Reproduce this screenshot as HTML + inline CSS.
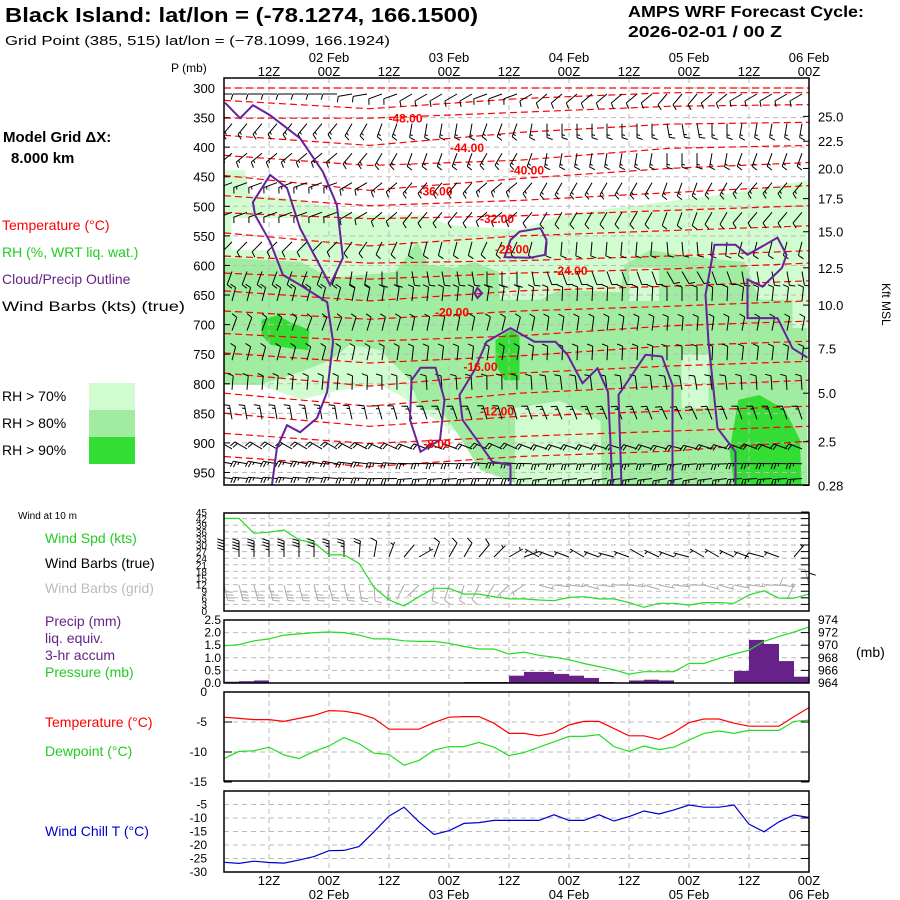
<!DOCTYPE html>
<html><head><meta charset="utf-8"><title>AMPS meteogram Black Island</title>
<style>
html,body{margin:0;padding:0;background:#fff;}
svg{display:block;font-family:"Liberation Sans",sans-serif;}
</style></head>
<body>
<svg id="chart" width="900" height="900" viewBox="0 0 900 900" xmlns="http://www.w3.org/2000/svg">
<rect width="900" height="900" fill="#fff"/>
<text x="5" y="22" font-size="20" font-weight="bold" textLength="473" lengthAdjust="spacingAndGlyphs">Black Island:  lat/lon = (-78.1274, 166.1500)</text>
<text x="5" y="45" font-size="13" textLength="385" lengthAdjust="spacingAndGlyphs">Grid Point (385, 515) lat/lon = (−78.1099, 166.1924)</text>
<text x="628" y="17" font-size="16" font-weight="bold" textLength="236" lengthAdjust="spacingAndGlyphs">AMPS WRF Forecast Cycle:</text>
<text x="628" y="37" font-size="16" font-weight="bold" textLength="154" lengthAdjust="spacingAndGlyphs">2026-02-01 / 00  Z</text>
<text x="171" y="72" font-size="12">P (mb)</text>
<text x="3" y="142" font-size="15" font-weight="bold">Model Grid ΔX:</text>
<text x="11" y="163" font-size="15" font-weight="bold">8.000 km</text>
<text x="2" y="230" font-size="14" fill="#ff0000">Temperature (°C)</text>
<text x="2" y="257" font-size="14" fill="#22cc22">RH (%, WRT liq. wat.)</text>
<text x="2" y="284" font-size="14" fill="#662288">Cloud/Precip Outline</text>
<text x="2" y="311" font-size="14" textLength="183" lengthAdjust="spacingAndGlyphs">Wind Barbs (kts) (true)</text>
<text x="2" y="401" font-size="14">RH &gt; 70%</text>
<text x="2" y="428" font-size="14">RH &gt; 80%</text>
<text x="2" y="455" font-size="14">RH &gt; 90%</text>
<rect x="89" y="383" width="46" height="27" fill="#d0fcd0"/>
<rect x="89" y="410" width="46" height="27" fill="#a0eca0"/>
<rect x="89" y="437" width="46" height="27" fill="#33dd33"/>
<text transform="translate(882,283) rotate(90)" font-size="12">Kft MSL</text>
<text x="18" y="519" font-size="10">Wind at 10 m</text>
<text x="45" y="543" font-size="14" fill="#22cc22">Wind Spd (kts)</text>
<text x="45" y="568" font-size="14">Wind Barbs (true)</text>
<text x="45" y="593" font-size="14" fill="#bbbbbb">Wind Barbs (grid)</text>
<text x="45" y="626" font-size="14" fill="#662288">Precip (mm)</text>
<text x="45" y="643" font-size="14" fill="#662288">liq. equiv.</text>
<text x="45" y="660" font-size="14" fill="#662288">3-hr accum</text>
<text x="45" y="677" font-size="14" fill="#22cc22">Pressure (mb)</text>
<text x="856" y="657" font-size="14">(mb)</text>
<text x="45" y="727" font-size="14" fill="#ff0000">Temperature (°C)</text>
<text x="45" y="756" font-size="14" fill="#22cc22">Dewpoint (°C)</text>
<text x="45" y="836" font-size="14" fill="#0000cc">Wind Chill T (°C)</text>
<g id="layer"></g>
</svg>
<script>
// ---------- data ----------
const tickHours = ["12Z","00Z","12Z","00Z","12Z","00Z","12Z","00Z","12Z","00Z"];
const tickIdx = [3,7,11,15,19,23,27,31,35,39];
const dateLabels = ["02 Feb","03 Feb","04 Feb","05 Feb","06 Feb"];
const dateIdx = [7,15,23,31,39];
const pLevels = [300,350,400,450,500,550,600,650,700,750,800,850,900,950];
const kftLabels = ["25.0","22.5","20.0","17.5","15.0","12.5","10.0","7.5","5.0","2.5","0.28"];
const kftPress = [348,390,436,487,543,604,667,740,816,898,972];
const temperature = [-4.2,-4.4,-4.6,-4.6,-4.9,-4.4,-3.9,-3.1,-3.2,-3.6,-4.4,-6.2,-6.2,-6.2,-5.1,-4.2,-4.1,-4.1,-5.2,-6.9,-6.9,-7.3,-6.8,-5.5,-4.9,-4.9,-6.1,-7.3,-7.3,-7.9,-6.7,-5.1,-4.5,-4.5,-5.2,-5.7,-5.7,-5.7,-4.1,-2.6];
const dewpoint = [-11.1,-9.9,-9.8,-9.2,-10.5,-11.1,-9.9,-9.0,-7.6,-8.6,-10.2,-10.4,-12.2,-11.4,-9.7,-9.1,-9.1,-8.4,-9.2,-10.6,-10.1,-9.2,-8.3,-7.4,-7.4,-7.1,-9.1,-9.9,-9.0,-9.6,-9.2,-8.0,-6.9,-6.5,-6.9,-6.4,-6.4,-6.4,-4.9,-4.7];
const windChill = [-26.4,-26.8,-26.0,-26.5,-26.7,-25.6,-24.3,-22.1,-22.0,-20.6,-15.1,-9.3,-6.0,-11.4,-16.1,-14.7,-12.0,-11.7,-10.9,-10.9,-10.9,-10.9,-8.8,-10.9,-10.9,-8.8,-11.1,-9.5,-7.4,-8.5,-7.0,-5.2,-6.0,-6.0,-5.2,-12.3,-15.1,-11.4,-8.9,-9.8];
const windSpd = [42.1,42.1,35.3,35.8,36.8,32.3,31.0,25.5,25.5,21.7,10.8,5.0,2.3,6.5,10.3,10.3,7.7,7.7,6.5,5.5,5.5,5.0,4.7,6.2,6.5,5.5,5.5,3.8,1.7,3.5,3.5,2.7,3.8,3.8,3.5,7.3,9.2,5.8,5.8,7.7];
const windDir = [0,0,0,0,0,0,0,0,0,5,10,20,40,60,20,30,30,40,45,60,70,300,290,290,300,290,285,290,300,295,290,285,300,300,295,290,285,290,40,180];
const surfPressure = [969.9,970.1,970.7,971.0,971.6,971.8,972.0,972.1,972.0,971.6,971.0,971.0,970.7,970.6,970.6,970.3,969.8,969.4,969.4,968.6,968.9,968.4,968.1,967.7,967.1,966.6,966.1,965.4,965.8,965.8,965.8,967.1,967.1,967.9,968.6,969.2,970.6,971.4,972.1,972.9];
const precip3h = [0.05,0.07,0.1,0,0,0,0,0,0,0,0,0,0,0,0,0,0.04,0.04,0.04,0.29,0.44,0.44,0.36,0.29,0.2,0.04,0,0.1,0.13,0.1,0,0,0,0,0.48,1.71,1.55,0.87,0.25];
// cross-section wind barbs
const barbLevels = [300,325,350,375,400,425,450,475,500,525,550,575,600,625,650,675,700,725,750,775,800,825,850,875,900,925,950];
const barbDirLevel = [270,250,220,220,230,240,250,255,250,240,225,210,200,10,15,15,20,20,15,10,5,355,350,330,300,280,275];
const barbSpdLevel = [10,15,15,15,15,15,15,10,10,10,10,10,10,10,10,10,10,10,10,10,10,10,15,15,20,25,25];
const barbDirShift = [0,0,0,0,0,0,0,0,-10,-10,-20,-20,-30,-30,-30,-30,-30,-20,-20,-20,-30,-40,-40,-40,-40,-40,-40,-40,-40,-50,-50,-50,-40,-40,-30,-30,-30,-30,-30];
// isotherms
const isoIdx = [0,9.7,19.7,29.7,39];
const isoP = [[300,300,300,300,300],[321,335,318,308,308],[351,351,341,331,328],[380,397,375,361,358],[414,431,422,402,397],[448,473,453,436,426],[482,499,490,477,465],[511,521,516,507,499],[545,567,550,541,533],[584,596,592,584,575],[613,623,613,606,596],[643,660,643,635,626],[677,691,677,669,660],[715,728,719,702,694],[748,765,753,736,728],[782,804,782,770,762],[816,838,816,804,794],[850,872,855,846,838],[884,901,889,880,872],[923,940,923,914,897]];
const isoLabels = ["-48.00","-44.00","-40.00","-36.00","-32.00","-28.00","-24.00","-20.00","-16.00","-12.00","-8.00"];
const isoLabelAt = [[12.1,350],[16.2,400],[20.2,438],[14.1,473],[18.2,520],[19.2,571],[23.1,608],[15.2,678],[17.1,770],[18.2,845],[14.2,900]];
// RH shading polygons (time index, pressure)
const rh70 = [[0,439],[1.4,439],[1.7,481],[5.1,489],[9.1,515],[13.1,515],[15.1,532],[19.7,540],[22.4,515],[27.7,498],[34.4,476],[38.9,456],[38.9,972],[19.7,971],[18.4,929],[17.1,895],[15.1,878],[13.1,844],[11.7,819],[10.4,802],[7.7,811],[5.1,827],[2.4,802],[0,802]];
const rhHoles = [[[0.5,520],[5.1,520],[5.1,574],[0.5,574]],[[27.4,608],[28.6,608],[28.6,660],[27.4,660]],[[31.2,887],[33.6,887],[33.6,955],[31.2,955]],[[25.9,915],[26.7,915],[26.7,971],[25.9,971]],[[38.3,615],[38.9,615],[38.9,650],[38.3,650]]];
const rh80 = [[0,587],[5.1,594],[7.1,621],[11.4,611],[12.9,560],[13.6,599],[15.4,604],[16.7,594],[18.3,611],[18.4,658],[21.1,658],[22.4,641],[26.4,645],[26.7,599],[28.4,574],[31.7,587],[34.7,594],[35.7,658],[38.9,658],[38.9,971],[19.7,971],[17.1,946],[15.4,878],[14.4,844],[13.1,844],[12.4,794],[10.4,743],[8.4,734],[7.1,760],[5.1,780],[2.4,802],[0,802]];
const rh80Light = [[[19.4,841],[22.4,829],[25.1,863],[25.2,971],[19.4,971]],[[30.5,751],[32.3,751],[32.3,841],[30.5,841]],[[37.9,594],[38.9,594],[38.9,706],[37.9,706]],[[27.0,604],[29.0,604],[29.0,660],[27.0,660]]];
const rh90 = [[[2.5,692],[3.6,684],[4.4,696],[5.7,709],[5.6,743],[4.4,740],[3.1,734],[2.5,718]],[[18.1,726],[19.1,709],[19.7,718],[19.7,794],[18.7,794],[18.1,768]],[[34.3,827],[35.7,819],[37.4,844],[38.4,895],[38.5,971],[34.0,971],[33.7,912]]];
const cloudLines = [
 {closed:false,pts:[[0.07,325],[1.07,351],[1.93,329],[3.07,346],[5.07,385],[6.6,442],[7.53,498],[7.93,587],[7.07,633],[5.07,537],[4.2,469],[3.07,447],[1.93,493],[2.07,515],[3.07,560],[3.93,616],[5.07,633],[6.87,662],[7.27,729],[6.87,814],[6.2,858],[5.07,882],[4.2,870],[3.53,909],[3.2,971]]},
 {closed:true,pts:[[18.7,586],[19.1,557],[19.7,543],[21.1,537],[21.5,557],[21.4,582],[20.4,587]]},
 {closed:true,pts:[[16.9,638],[17.2,647],[16.9,655],[16.7,647]]},
 {closed:true,pts:[[13.1,773],[14.1,773],[14.7,827],[14.4,895],[13.1,915],[12.4,861],[12.5,794]]},
 {closed:false,pts:[[19.1,971],[19.1,937],[17.9,932],[15.9,861],[15.7,819],[16.7,777],[17.5,729],[19.1,706],[20.7,729],[22.1,729],[22.9,751],[23.9,799],[24.9,774],[25.6,814],[25.9,971]]},
 {closed:false,pts:[[26.5,971],[26.3,819],[28.1,751],[29.2,754],[29.9,802],[29.9,971]]},
 {closed:false,pts:[[34.1,971],[34.1,915],[32.9,875],[32.3,729],[32.1,650],[32.7,565],[34.1,565],[34.9,582],[36.9,553],[37.5,582],[37.2,604],[35.9,636],[34.9,624],[34.9,689],[36.9,689],[37.9,740],[38.9,756]]}
];
const spdTicks = [45,42,39,36,33,30,27,24,21,18,15,12,9,6,3,0];
const precipTicks = [2.5,2.0,1.5,1.0,0.5,0.0];
const presTicks = [974,972,970,968,966,964];
const tempTicks = [0,-5,-10,-15];
const wcTicks = [-5,-10,-15,-20,-25,-30];

// ---------- scales ----------
const X0 = 224, X1 = 809;
const xI = i => X0 + i * 15;
const yP = p => 88 + (p - 300) * 0.5915;
const ySpd = s => 611 - s * 99 / 45;
const yPre = mm => 683 - mm * 25.2;
const yPres = p => 620 + (974 - p) * 6.3;
const yT = t => 692 - t * 6;
const yWC = t => 791 - t * 2.7;

const NS = "http://www.w3.org/2000/svg";
const layer = document.getElementById("layer");
function mk(tag, attrs, parent) {
  const e = document.createElementNS(NS, tag);
  for (const k in attrs) e.setAttribute(k, attrs[k]);
  (parent || layer).appendChild(e);
  return e;
}
const polyStr = pts => pts.map(q => xI(q[0]).toFixed(1) + "," + yP(q[1]).toFixed(1)).join(" ");

// ---------- upper cross-section ----------
const upper = mk("g", {});


const clip = mk("clipPath", {id: "upclip"});
mk("rect", {x: X0, y: 78, width: X1 - X0, height: 407}, clip);
const shade = mk("g", {"clip-path": "url(#upclip)"}, upper);
let e = mk("polygon", {points: polyStr(rh70), fill: "#d0fcd0"}, shade);


rhHoles.forEach(h => {
  const el = mk("polygon", {points: polyStr(h), fill: "#fff"}, shade);
  
  
});
e = mk("polygon", {points: polyStr(rh80), fill: "#a0eca0"}, shade);


rh80Light.forEach(h => {
  const el = mk("polygon", {points: polyStr(h), fill: "#d0fcd0"}, shade);
  
  
});
rh90.forEach(h => {
  const el = mk("polygon", {points: polyStr(h), fill: "#33dd33"}, shade);
  
  
});
pLevels.forEach(p => {
  const el = mk("line", {x1: X0, x2: X1, y1: yP(p), y2: yP(p), stroke: "#bbb", "stroke-dasharray": "5,4"}, upper);
  
  
  const t = mk("text", {x: 215, y: yP(p) + 5, "text-anchor": "end", "font-size": 13}, upper);
  t.textContent = p;
  
  
  mk("line", {x1: X0, x2: X0 + 6, y1: yP(p), y2: yP(p), stroke: "#000"}, upper);
});
tickIdx.forEach(i => {
  const el = mk("line", {x1: xI(i), x2: xI(i), y1: 78, y2: 485, stroke: "#bbb", "stroke-dasharray": "5,4"}, upper);
  
  
});
const isoG = mk("g", {"clip-path": "url(#upclip)"}, upper);
isoP.forEach(row => {
  let d = "";
  row.forEach((p, k) => { d += (k ? " L" : "M") + xI(isoIdx[k]).toFixed(1) + "," + yP(p).toFixed(1); });
  const el = mk("path", {d: d, fill: "none", stroke: "#ff0000", "stroke-width": 1.2, "stroke-dasharray": "7,4"}, isoG);
  
  
});
function barb(g, x, y, dir, spd, color, L, F) {
  const r = dir * Math.PI / 180;
  const ux = Math.sin(r), uy = -Math.cos(r);
  const tx = x + ux * L, ty = y + uy * L;
  let d = "M" + x.toFixed(1) + "," + y.toFixed(1) + " L" + tx.toFixed(1) + "," + ty.toFixed(1);
  const fr = r - Math.PI * 0.4;
  const fx = Math.sin(fr), fy = -Math.cos(fr);
  let s = Math.round(spd / 5) * 5, pos = 0;
  while (s >= 10) {
    const bx = tx - ux * pos, by = ty - uy * pos;
    d += " M" + bx.toFixed(1) + "," + by.toFixed(1) + " l" + (fx * F).toFixed(1) + "," + (fy * F).toFixed(1);
    s -= 10; pos += 3;
  }
  if (s >= 5) {
    if (pos === 0) pos = 3;
    const bx = tx - ux * pos, by = ty - uy * pos;
    d += " M" + bx.toFixed(1) + "," + by.toFixed(1) + " l" + (fx * F / 2).toFixed(1) + "," + (fy * F / 2).toFixed(1);
  }
  return mk("path", {d: d, fill: "none", stroke: color, "stroke-width": 1}, g);
}
const barbG = mk("g", {"clip-path": "url(#upclip)"}, upper);
barbLevels.forEach((p, j) => {
  if (j % 2 === 1 && j < 24) return;
  for (let i = 0; i < barbDirShift.length; i++) {
    const el = barb(barbG, xI(i) + 8, yP(p) + 6, barbDirLevel[j] + (j > 12 ? barbDirShift[i] * 0.3 : barbDirShift[i]), barbSpdLevel[j], "#000", 14, 6);
    
    
  }
});
cloudLines.forEach(c => {
  const el = mk(c.closed ? "polygon" : "polyline", {points: polyStr(c.pts), fill: "none", stroke: "#662299", "stroke-width": 2}, upper);
  
  
});
isoLabels.forEach((lab, k) => {
  const t = mk("text", {x: xI(isoLabelAt[k][0]), y: yP(isoLabelAt[k][1]) + 5, "text-anchor": "middle", "font-size": 12, "font-weight": "bold", fill: "#ff0000"}, upper);
  t.textContent = lab;
  
  
});
mk("rect", {x: X0, y: 78, width: X1 - X0, height: 407, fill: "none", stroke: "#000", "stroke-width": 1.5}, upper);
kftLabels.forEach((lab, k) => {
  const y = yP(kftPress[k]);
  mk("line", {x1: X1 - 6, x2: X1, y1: y, y2: y, stroke: "#000"}, upper);
  const t = mk("text", {x: 818, y: y + 5, "font-size": 13}, upper);
  t.textContent = lab;
  
  
});
tickIdx.forEach((i, k) => {
  const t = mk("text", {x: xI(i), y: 76, "text-anchor": "middle", "font-size": 13});
  t.textContent = tickHours[k];
  
  
  const b = mk("text", {x: xI(i), y: 885, "text-anchor": "middle", "font-size": 13});
  b.textContent = tickHours[k];
  
  
});
dateIdx.forEach((i, k) => {
  const t = mk("text", {x: xI(i), y: 62, "text-anchor": "middle", "font-size": 13});
  t.textContent = dateLabels[k];
  
  
  const b = mk("text", {x: xI(i), y: 899, "text-anchor": "middle", "font-size": 13});
  b.textContent = dateLabels[k];
  
  
});

function panel(name, y0, y1, hLines) {
  const g = mk("g", {});
  
  
  hLines.forEach(y => mk("line", {x1: X0, x2: X1, y1: y, y2: y, stroke: "#bbb", "stroke-dasharray": "5,4"}, g));
  tickIdx.forEach(i => mk("line", {x1: xI(i), x2: xI(i), y1: y0, y2: y1, stroke: "#bbb", "stroke-dasharray": "5,4"}, g));
  return g;
}
function frame(g, y0, y1) {
  mk("rect", {x: X0, y: y0, width: X1 - X0, height: y1 - y0, fill: "none", stroke: "#000", "stroke-width": 1.5}, g);
}
function linePath(vals, fx, fy) {
  return vals.map((v, i) => (i ? "L" : "M") + fx(i).toFixed(1) + "," + fy(v).toFixed(1)).join(" ");
}

const wg = panel("wind-panel", 513, 611, spdTicks.slice(1, -1).map(ySpd));
windDir.forEach((d, i) => {
  const g1 = barb(wg, xI(i), 585, d + 166, windSpd[i], "#aaaaaa", 16, 7);
  
  
});
windDir.forEach((d, i) => {
  const b1 = barb(wg, xI(i), 557, d, windSpd[i], "#000", 16, 7);
  
  
});
e = mk("path", {d: linePath(windSpd, xI, ySpd), fill: "none", stroke: "#22dd22", "stroke-width": 1.2}, wg);


spdTicks.forEach(s => {
  mk("line", {x1: X1 - 8, x2: X1, y1: ySpd(s), y2: ySpd(s), stroke: "#000"}, wg);
  const t = mk("text", {x: 207, y: ySpd(s) + 4, "text-anchor": "end", "font-size": 10}, wg);
  t.textContent = s;
  
  
});
frame(wg, 513, 611);

const pg = panel("precip-pressure-panel", 620, 683, precipTicks.slice(1, -1).map(yPre));
precip3h.forEach((v, i) => {
  if (v <= 0) return;
  const r = mk("rect", {x: xI(i), y: yPre(v), width: 15, height: 683 - yPre(v), fill: "#662288"}, pg);
  
  
});
e = mk("path", {d: linePath(surfPressure, xI, yPres), fill: "none", stroke: "#22dd22", "stroke-width": 1.2}, pg);


precipTicks.forEach(v => {
  const t = mk("text", {x: 221, y: yPre(v) + 4, "text-anchor": "end", "font-size": 12}, pg);
  t.textContent = v.toFixed(1);
  
  
});
presTicks.forEach(v => {
  mk("line", {x1: X1 - 8, x2: X1, y1: yPres(v), y2: yPres(v), stroke: "#000"}, pg);
  const t = mk("text", {x: 818, y: yPres(v) + 4, "font-size": 12}, pg);
  t.textContent = v;
  
  
});
frame(pg, 620, 683);

const tg = panel("temperature-panel", 692, 781, [yT(-5), yT(-10)]);
e = mk("path", {d: linePath(temperature, xI, yT), fill: "none", stroke: "#ff0000", "stroke-width": 1.2}, tg);


e = mk("path", {d: linePath(dewpoint, xI, yT), fill: "none", stroke: "#22dd22", "stroke-width": 1.2}, tg);


tempTicks.forEach(v => {
  mk("line", {x1: X1 - 8, x2: X1, y1: yT(v), y2: yT(v), stroke: "#000"}, tg);
  mk("line", {x1: X0, x2: X0 + 8, y1: yT(v), y2: yT(v), stroke: "#000"}, tg);
  const t = mk("text", {x: 207, y: yT(v) + 4, "text-anchor": "end", "font-size": 12}, tg);
  t.textContent = v;
  
  
});
frame(tg, 692, 781);

const cg = panel("wind-chill-panel", 791, 872, wcTicks.slice(0, -1).map(yWC));
e = mk("path", {d: linePath(windChill, xI, yWC), fill: "none", stroke: "#0000cc", "stroke-width": 1.2}, cg);


wcTicks.forEach(v => {
  mk("line", {x1: X1 - 8, x2: X1, y1: yWC(v), y2: yWC(v), stroke: "#000"}, cg);
  const t = mk("text", {x: 207, y: yWC(v) + 4, "text-anchor": "end", "font-size": 12}, cg);
  t.textContent = v;
  
  
});
frame(cg, 791, 872);
</script>
</body></html>
